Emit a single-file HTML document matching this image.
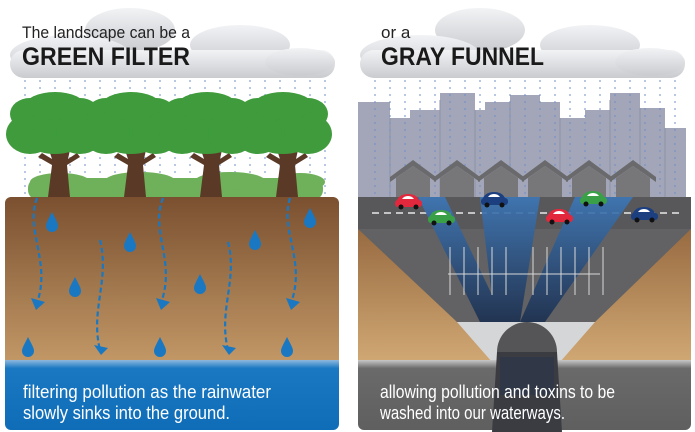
<!DOCTYPE html>
<html><head><meta charset="utf-8"><style>
html,body{margin:0;padding:0;background:#fff;width:695px;height:432px;overflow:hidden}
svg{display:block}
</style></head><body>
<svg width="695" height="432" viewBox="0 0 695 432" xmlns="http://www.w3.org/2000/svg" font-family="Liberation Sans, sans-serif">
<defs>
<linearGradient id="soil" x1="0" y1="0" x2="0" y2="1"><stop offset="0" stop-color="#7a5030"/><stop offset="1" stop-color="#c49a68"/></linearGradient>
<linearGradient id="soil2" x1="0" y1="0" x2="0" y2="1"><stop offset="0" stop-color="#8a5c34"/><stop offset="1" stop-color="#d0a874"/></linearGradient>
<linearGradient id="cloud" x1="0" y1="0" x2="0" y2="1"><stop offset="0" stop-color="#f2f3f5"/><stop offset="1" stop-color="#c9cbcf"/></linearGradient>
<linearGradient id="beam" x1="0" y1="0" x2="0" y2="1"><stop offset="0" stop-color="#3e78b8"/><stop offset="1" stop-color="#1c3050"/></linearGradient>
<linearGradient id="blueband" x1="0" y1="0" x2="0" y2="1"><stop offset="0" stop-color="#8fb8de"/><stop offset="0.12" stop-color="#1a78c2"/><stop offset="1" stop-color="#0f6db8"/></linearGradient>
<linearGradient id="grayband" x1="0" y1="0" x2="0" y2="1"><stop offset="0" stop-color="#c8c8c8"/><stop offset="0.12" stop-color="#6a6a6a"/><stop offset="1" stop-color="#5f5f5f"/></linearGradient>
</defs>

<!-- LEFT PANEL -->
<g>
<g fill="url(#cloud)">
<ellipse cx="130" cy="30" rx="45" ry="22"/>
<ellipse cx="240" cy="45" rx="50" ry="20"/>
<ellipse cx="70" cy="55" rx="60" ry="20"/>
<rect x="10" y="50" width="325" height="28" rx="14"/>
<ellipse cx="300" cy="62" rx="35" ry="14"/>
</g>
<text x="22" y="38" font-size="17" fill="#222" textLength="168" lengthAdjust="spacingAndGlyphs">The landscape can be a</text>
<text x="22" y="65" font-size="25" font-weight="bold" fill="#1a1a1a" textLength="168" lengthAdjust="spacingAndGlyphs">GREEN FILTER</text>
<g stroke="#6f8fc8" stroke-width="1" stroke-dasharray="2,5">
<line x1="25" y1="80" x2="25" y2="200"/><line x1="40" y1="80" x2="40" y2="200"/><line x1="55" y1="80" x2="55" y2="200"/><line x1="70" y1="80" x2="70" y2="200"/>
<line x1="85" y1="80" x2="85" y2="200"/><line x1="100" y1="80" x2="100" y2="200"/><line x1="115" y1="80" x2="115" y2="200"/><line x1="130" y1="80" x2="130" y2="200"/>
<line x1="145" y1="80" x2="145" y2="200"/><line x1="160" y1="80" x2="160" y2="200"/><line x1="175" y1="80" x2="175" y2="200"/><line x1="190" y1="80" x2="190" y2="200"/>
<line x1="205" y1="80" x2="205" y2="200"/><line x1="220" y1="80" x2="220" y2="200"/><line x1="235" y1="80" x2="235" y2="200"/><line x1="250" y1="80" x2="250" y2="200"/>
<line x1="265" y1="80" x2="265" y2="200"/><line x1="280" y1="80" x2="280" y2="200"/><line x1="295" y1="80" x2="295" y2="200"/><line x1="310" y1="80" x2="310" y2="200"/><line x1="325" y1="80" x2="325" y2="200"/>
</g>
<g fill="#6fb05a">
<rect x="28" y="178" width="295" height="22" rx="10"/>
<ellipse cx="60" cy="182" rx="30" ry="9"/><ellipse cx="140" cy="181" rx="35" ry="9"/><ellipse cx="230" cy="181" rx="35" ry="9"/><ellipse cx="300" cy="182" rx="25" ry="9"/>
</g>
<g id="tree">
<path d="M48 197 L52 165 L38 157 L42 153 L52 159 L49 150 L70 150 L68 159 L77 153 L80 157 L67 165 L70 197 Z" fill="#5a3a26"/>
<g fill="#3f9b3c">
<ellipse cx="55" cy="126" rx="40" ry="28"/>
<ellipse cx="30" cy="134" rx="24" ry="20"/><ellipse cx="80" cy="134" rx="24" ry="20"/>
<ellipse cx="30" cy="114" rx="20" ry="16"/><ellipse cx="80" cy="114" rx="20" ry="16"/>
<ellipse cx="55" cy="106" rx="30" ry="14"/>
</g>
</g>
<use href="#tree" x="76"/><use href="#tree" x="152"/><use href="#tree" x="228"/>
<rect x="5" y="197" width="334" height="170" rx="6" fill="url(#soil)"/>
<path d="M5 360 H339 V424 a6 6 0 0 1 -6 6 H11 a6 6 0 0 1 -6 -6 Z" fill="url(#blueband)"/>
<text x="23" y="398" font-size="18.5" fill="#fff" textLength="248" lengthAdjust="spacingAndGlyphs">filtering pollution as the rainwater</text>
<text x="23" y="419" font-size="18.5" fill="#fff" textLength="207" lengthAdjust="spacingAndGlyphs">slowly sinks into the ground.</text>
<g fill="none" stroke="#1a78c2" stroke-width="2.2" stroke-dasharray="5,3">
<path d="M37 198 C25 230 50 260 38 300"/>
<path d="M100 240 C110 280 90 310 100 350"/>
<path d="M163 198 C150 230 175 260 162 300"/>
<path d="M228 242 C238 280 218 310 228 350"/>
<path d="M290 198 C280 230 305 260 292 300"/>
</g>
<g fill="#1a78c2">
<path d="M31 298 L45 302 L36 310 Z"/><path d="M94 345 L108 348 L101 355 Z"/>
<path d="M156 298 L170 302 L161 310 Z"/><path d="M222 345 L236 348 L229 355 Z"/><path d="M286 298 L300 302 L291 310 Z"/>
</g>
<g id="drop" fill="#1a78c2"><path d="M52 212 C48 220 46 223 46 226 a6 6 0 0 0 12 0 C58 223 56 220 52 212 Z"/></g>
<use href="#drop" x="78" y="20"/><use href="#drop" x="23" y="65"/><use href="#drop" x="148" y="62"/>
<use href="#drop" x="203" y="18"/><use href="#drop" x="258" y="-4"/><use href="#drop" x="-24" y="125"/>
<use href="#drop" x="108" y="125"/><use href="#drop" x="235" y="125"/>
</g>

<!-- RIGHT PANEL -->
<g>
<g fill="url(#cloud)">
<ellipse cx="480" cy="30" rx="45" ry="22"/>
<ellipse cx="590" cy="45" rx="50" ry="20"/>
<ellipse cx="420" cy="55" rx="60" ry="20"/>
<rect x="360" y="50" width="325" height="28" rx="14"/>
<ellipse cx="650" cy="62" rx="35" ry="14"/>
</g>
<text x="381" y="38" font-size="17" fill="#222">or a</text>
<text x="381" y="65" font-size="25" font-weight="bold" fill="#1a1a1a" textLength="163" lengthAdjust="spacingAndGlyphs">GRAY FUNNEL</text>
<path d="M358 102 H390 V118 H410 V110 H440 V93 H475 V110 H485 V102 H510 V95 H540 V102 H560 V118 H585 V110 H610 V93 H640 V108 H665 V128 H686 V200 H358 Z" fill="#a2a6b8"/>
<g stroke="#8f93a6" stroke-width="1"><line x1="390" y1="118" x2="390" y2="200"/><line x1="440" y1="100" x2="440" y2="200"/><line x1="475" y1="110" x2="475" y2="200"/><line x1="510" y1="102" x2="510" y2="200"/><line x1="560" y1="118" x2="560" y2="200"/><line x1="610" y1="100" x2="610" y2="200"/><line x1="640" y1="108" x2="640" y2="200"/><line x1="665" y1="128" x2="665" y2="200"/></g>
<g stroke="#6f8fc8" stroke-width="1" stroke-dasharray="2,5">
<line x1="375" y1="80" x2="375" y2="198"/><line x1="390" y1="80" x2="390" y2="198"/><line x1="405" y1="80" x2="405" y2="198"/><line x1="420" y1="80" x2="420" y2="198"/>
<line x1="435" y1="80" x2="435" y2="198"/><line x1="450" y1="80" x2="450" y2="198"/><line x1="465" y1="80" x2="465" y2="198"/><line x1="480" y1="80" x2="480" y2="198"/>
<line x1="495" y1="80" x2="495" y2="198"/><line x1="510" y1="80" x2="510" y2="198"/><line x1="525" y1="80" x2="525" y2="198"/><line x1="540" y1="80" x2="540" y2="198"/>
<line x1="555" y1="80" x2="555" y2="198"/><line x1="570" y1="80" x2="570" y2="198"/><line x1="585" y1="80" x2="585" y2="198"/><line x1="600" y1="80" x2="600" y2="198"/>
<line x1="615" y1="80" x2="615" y2="198"/><line x1="630" y1="80" x2="630" y2="198"/><line x1="645" y1="80" x2="645" y2="198"/><line x1="660" y1="80" x2="660" y2="198"/><line x1="675" y1="80" x2="675" y2="198"/>
</g>
<g id="house">
<path d="M390 177 L413 160 L436 177 L436 182 L413 166 L390 182 Z" fill="#6a6a6c"/>
<path d="M396 178 L413 166 L430 178 V198 H396 Z" fill="#77777a"/>
</g>
<use href="#house" x="44"/><use href="#house" x="88"/><use href="#house" x="132"/><use href="#house" x="176"/><use href="#house" x="220"/>
<rect x="358" y="197" width="333" height="165" fill="url(#soil2)"/>
<path d="M358 197 H691 L595 322 H457 Z" fill="#5d5d5f"/>
<rect x="358" y="197" width="333" height="32" fill="#58585a"/>
<path d="M358 229 H691 L595 322 H457 Z" fill="#626264"/>
<line x1="372" y1="213" x2="680" y2="213" stroke="#e8e8e8" stroke-width="1.5" stroke-dasharray="7,5"/>
<g fill="url(#beam)" opacity="0.9">
<path d="M418 197 H445 L505 322 H480 Z"/>
<path d="M480 197 H540 L520 322 H495 Z"/>
<path d="M575 197 H633 L545 322 H520 Z"/>
</g>
<g stroke="#d8d8d8" stroke-width="1" fill="none">
<line x1="448" y1="274" x2="600" y2="274"/>
<line x1="450" y1="247" x2="450" y2="295"/><line x1="464" y1="247" x2="464" y2="295"/><line x1="478" y1="247" x2="478" y2="295"/><line x1="492" y1="247" x2="492" y2="295"/><line x1="506" y1="247" x2="506" y2="295"/>
<line x1="533" y1="247" x2="533" y2="295"/><line x1="547" y1="247" x2="547" y2="295"/><line x1="561" y1="247" x2="561" y2="295"/><line x1="575" y1="247" x2="575" y2="295"/><line x1="589" y1="247" x2="589" y2="295"/><line x1="603" y1="247" x2="603" y2="295"/>
</g>
<g id="car">
<path d="M396 203 Q398 194 408 194 Q418 194 420 203 Z" fill="#e2283c"/>
<rect x="395" y="200" width="27" height="7" rx="3" fill="#e2283c"/>
<path d="M402 199 Q404 196 408 196 Q412 196 414 199 Z" fill="#fff"/>
<circle cx="401" cy="207" r="2.5" fill="#111"/><circle cx="416" cy="207" r="2.5" fill="#111"/>
</g>
<g transform="translate(33,16)"><g fill="#3aa048"><path d="M396 203 Q398 194 408 194 Q418 194 420 203 Z"/><rect x="395" y="200" width="27" height="7" rx="3"/></g><path d="M402 199 Q404 196 408 196 Q412 196 414 199 Z" fill="#fff"/><circle cx="401" cy="207" r="2.5" fill="#111"/><circle cx="416" cy="207" r="2.5" fill="#111"/></g>
<g transform="translate(86,-2)"><g fill="#1c3f80"><path d="M396 203 Q398 194 408 194 Q418 194 420 203 Z"/><rect x="395" y="200" width="27" height="7" rx="3"/></g><path d="M402 199 Q404 196 408 196 Q412 196 414 199 Z" fill="#fff"/><circle cx="401" cy="207" r="2.5" fill="#111"/><circle cx="416" cy="207" r="2.5" fill="#111"/></g>
<g transform="translate(151,15)"><g fill="#e2283c"><path d="M396 203 Q398 194 408 194 Q418 194 420 203 Z"/><rect x="395" y="200" width="27" height="7" rx="3"/></g><path d="M402 199 Q404 196 408 196 Q412 196 414 199 Z" fill="#fff"/><circle cx="401" cy="207" r="2.5" fill="#111"/><circle cx="416" cy="207" r="2.5" fill="#111"/></g>
<g transform="translate(185,-3)"><g fill="#3aa048"><path d="M396 203 Q398 194 408 194 Q418 194 420 203 Z"/><rect x="395" y="200" width="27" height="7" rx="3"/></g><path d="M402 199 Q404 196 408 196 Q412 196 414 199 Z" fill="#fff"/><circle cx="401" cy="207" r="2.5" fill="#111"/><circle cx="416" cy="207" r="2.5" fill="#111"/></g>
<g transform="translate(236,13)"><g fill="#1c3f80"><path d="M396 203 Q398 194 408 194 Q418 194 420 203 Z"/><rect x="395" y="200" width="27" height="7" rx="3"/></g><path d="M402 199 Q404 196 408 196 Q412 196 414 199 Z" fill="#fff"/><circle cx="401" cy="207" r="2.5" fill="#111"/><circle cx="416" cy="207" r="2.5" fill="#111"/></g>
<path d="M457 322 H595 L560 362 H492 Z" fill="#d5d6d8"/>
<path d="M358 360 H691 V424 a6 6 0 0 1 -6 6 H364 a6 6 0 0 1 -6 -6 Z" fill="url(#grayband)"/>
<circle cx="527" cy="352" r="30" fill="#555558"/>
<path d="M497 352 L492 432 H562 L557 352 Z" fill="#3a3c42"/>
<path d="M500 357 H554 V395 H500 Z" fill="#2c3448" opacity="0.7"/>
<text x="380" y="398" font-size="18.5" fill="#fff" textLength="235" lengthAdjust="spacingAndGlyphs">allowing pollution and toxins to be</text>
<text x="380" y="419" font-size="18.5" fill="#fff" textLength="185" lengthAdjust="spacingAndGlyphs">washed into our waterways.</text>
</g>
</svg>
</body></html>
